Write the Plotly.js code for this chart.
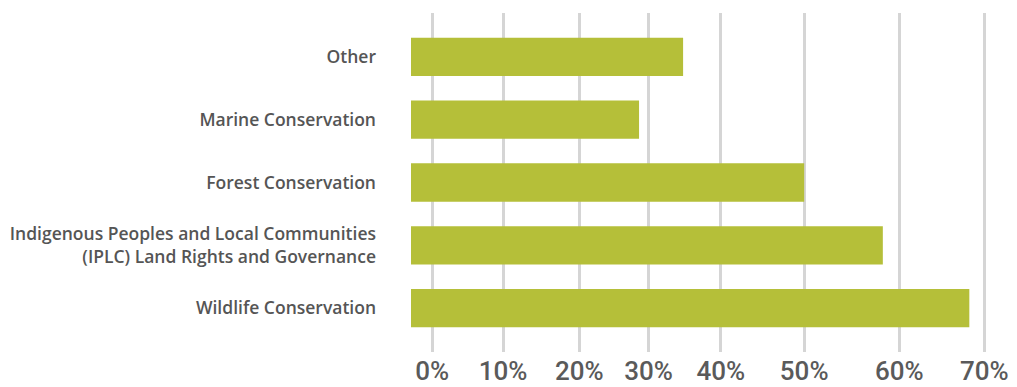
<!DOCTYPE html>
<html>
<head>
<meta charset="utf-8">
<script src="https://cdn.plot.ly/plotly-3.0.1.min.js"></script>
<style>html,body{margin:0;padding:0;background:#fff;}#chart{width:1017px;height:387px;}</style>
</head>
<body>
<div id="chart"></div>
<script>
// Categories listed bottom to top
const categories = [
  "Wildlife Conservation",
  "Indigenous Peoples and Local Communities<br>(IPLC) Land Rights and Governance",
  "Forest Conservation",
  "Marine Conservation",
  "Other"
];
const values = [71, 60, 50, 29, 34.6];
const tickLabels = ["0%", "10%", "20%", "30%", "40%", "50%", "60%", "70%"];

const trace = {
  type: "bar",
  orientation: "h",
  y: categories,
  x: values,
  marker: { color: "#b5bf39" },
  width: 0.61,
  hoverinfo: "x+y"
};

const layout = {
  width: 1017,
  height: 387,
  margin: { l: 411, r: 17, t: 13, b: 35 },
  paper_bgcolor: "#ffffff",
  plot_bgcolor: "#ffffff",
  showlegend: false,
  font: { family: "Roboto, sans-serif", color: "#595959" },
  xaxis: {
    range: [0, 74.9],
    tickmode: "array",
    // gridline positions as they appear in the reference graphic
    tickvals: [2.7, 11.7, 21.4, 30.2, 39.4, 50, 62.1, 72.9],
    ticktext: tickLabels,
    showgrid: true,
    gridcolor: "#d5d5d5",
    gridwidth: 3,
    zeroline: false,
    showline: false,
    ticks: "",
    ticklabelstandoff: 1,
    tickfont: { size: 26, color: "#5a5a5a", family: "Roboto, sans-serif", weight: 500 },
    fixedrange: true
  },
  yaxis: {
    type: "category",
    range: [-0.7, 4.7],
    showgrid: false,
    zeroline: false,
    showline: false,
    ticks: "",
    ticklabelstandoff: 34,
    tickfont: { size: 17.5, color: "#555555", family: "Open Sans, sans-serif", weight: 600 },
    fixedrange: true
  }
};

Plotly.newPlot("chart", [trace], layout, { displayModeBar: false, staticPlot: true });
</script>
</body>
</html>
